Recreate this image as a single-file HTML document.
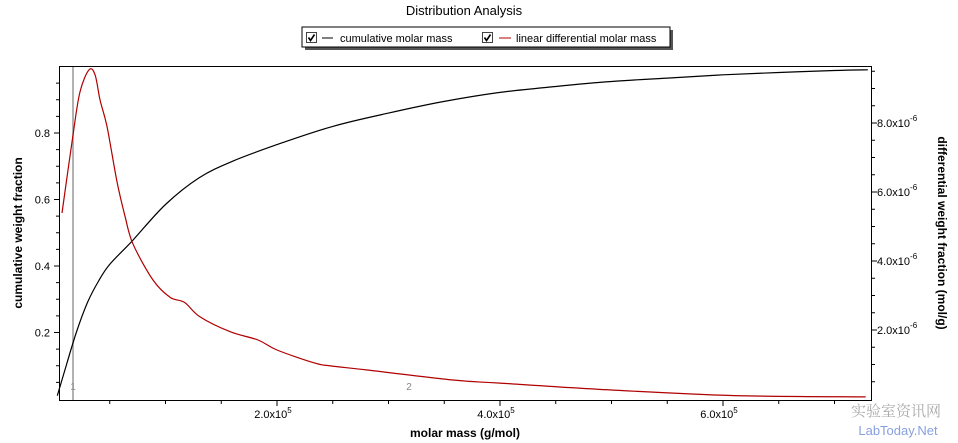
<!DOCTYPE html>
<html><head><meta charset="utf-8"><style>
html,body{margin:0;padding:0;background:#fff;}
svg{display:block;font-family:"Liberation Sans",Arial,sans-serif;}
</style></head><body>
<svg id="chart" width="958" height="443" viewBox="0 0 958 443">
<text x="464" y="15" font-size="13" text-anchor="middle" fill="#000">Distribution Analysis</text>
<g>
<rect x="305" y="30" width="368" height="20" fill="#555"/>
<rect x="302" y="27" width="368" height="20" fill="#fff" stroke="#000" stroke-width="1"/>
<g>
<rect x="306.5" y="32.5" width="10" height="10" fill="#fff" stroke="#444"/>
<path d="M308.5 37.5 l2 3 l4 -6" stroke="#000" stroke-width="1.6" fill="none"/>
<line x1="322" y1="38" x2="333" y2="38" stroke="#000"/>
<text x="340" y="42" font-size="11">cumulative molar mass</text>
</g>
<g>
<rect x="482.5" y="32.5" width="10" height="10" fill="#fff" stroke="#444"/>
<path d="M484.5 37.5 l2 3 l4 -6" stroke="#000" stroke-width="1.6" fill="none"/>
<line x1="499" y1="38" x2="511" y2="38" stroke="#b00000"/>
<text x="516" y="42" font-size="11">linear differential molar mass</text>
</g>
</g>
<g id="axes"></g>
<g id="marks"></g>
<rect x="59.5" y="66.5" width="812" height="334" fill="none" stroke="#000"/>
<text x="0" y="0" font-size="12" font-weight="bold" text-anchor="middle" transform="translate(22,233) rotate(-90)">cumulative weight fraction</text>
<text x="0" y="0" font-size="12" font-weight="bold" text-anchor="middle" transform="translate(938,233) rotate(90)">differential weight fraction (mol/g)</text>
<text x="465" y="437" font-size="12" font-weight="bold" text-anchor="middle">molar mass (g/mol)</text>
<text x="73" y="390" font-size="10" fill="#888" text-anchor="middle">1</text>
<text x="409" y="390" font-size="10" fill="#888" text-anchor="middle">2</text>
<text x="896" y="416" font-size="15" fill="#aaa" text-anchor="middle" font-family="'Noto Serif CJK SC','Noto Sans CJK SC',serif">实验室资讯网</text>
<text x="898" y="435" font-size="13" fill="#88a0e0" text-anchor="middle">LabToday.Net</text>
</svg>
<script>
const cumMass = [3e3,1e4,2e4,3e4,4e4,5e4,7e4,1e5,1.3e5,1.6e5,2e5,2.5e5,3e5,3.5e5,4e5,4.5e5,5e5,5.5e5,6e5,6.5e5,7e5,7.3e5];
const cumValues = [0.01,0.09,0.2,0.29,0.355,0.405,0.475,0.585,0.665,0.715,0.765,0.82,0.86,0.895,0.922,0.94,0.955,0.965,0.975,0.982,0.988,0.99];
const diffMass = [7.2e3,1.7e4,2.33e4,3.14e4,3.68e4,4.13e4,4.75e4,5.65e4,6.37e4,7.08e4,8.88e4,1.04e5,1.17e5,1.31e5,1.58e5,1.83e5,2e5,2.34e5,2.48e5,2.81e5,3.58e5,4e5,5e5,6.1e5,7.28e5];
const diffValues = [5.39,7.65,8.9,9.54,9.4,8.67,7.9,6.3,5.3,4.5,3.45,2.95,2.8,2.38,1.95,1.71,1.42,1.04,0.96,0.84,0.55,0.46,0.26,0.1,0.06];
const xTicks = [2e5,4e5,6e5];
const xTickLabels = ["2.0x10","4.0x10","6.0x10"];
const leftTicks = [0.2,0.4,0.6,0.8];
const leftTickLabels = ["0.2","0.4","0.6","0.8"];
const rightTicks = [2,4,6,8];
const rightTickLabels = ["2.0x10","4.0x10","6.0x10","8.0x10"];

const NS="http://www.w3.org/2000/svg";
const X=m=>54+m/2e5*223;
const YL=v=>399-v/0.2*66.5;
const YR=v=>399-v/2*69;
const axes=document.getElementById('axes'), marks=document.getElementById('marks');
function mk(tag,attrs,parent){const e=document.createElementNS(NS,tag);for(const k in attrs)e.setAttribute(k,attrs[k]);parent.appendChild(e);return e;}
for(let m=5e4;m<=7.3e5;m+=5e4){const major=xTicks.includes(m);
const t=mk('line',{x1:X(m),x2:X(m),y1:401,y2:major?406:404,stroke:'#000'},axes);

}
xTicks.forEach((m,i)=>{const t=mk('text',{x:X(m)-4,y:418,'font-size':11,'text-anchor':'middle'},axes);


t.textContent=xTickLabels[i];
const s=mk('tspan',{dy:-5,'font-size':8},t);s.textContent='5';});
for(let v=0.05;v<1.0;v+=0.05){const major=leftTicks.some(t=>Math.abs(t-v)<1e-6);
const t=mk('line',{x1:major?54:56,x2:59,y1:YL(v),y2:YL(v),stroke:'#000'},axes);

}
leftTicks.forEach((v,i)=>{const t=mk('text',{x:50,y:YL(v)+4,'font-size':11,'text-anchor':'end'},axes);


t.textContent=leftTickLabels[i];});
for(let v=0.5;v<9.7;v+=0.5){const major=rightTicks.some(t=>Math.abs(t-v)<1e-6);
const t=mk('line',{x1:872,x2:major?877:875,y1:YR(v),y2:YR(v),stroke:'#000'},axes);

}
rightTicks.forEach((v,i)=>{const t=mk('text',{x:877,y:YR(v)+4,'font-size':11},axes);


t.textContent=rightTickLabels[i];
const s=mk('tspan',{dy:-6,'font-size':8},t);s.textContent='-6';});
const vl=mk('line',{x1:73,x2:73,y1:67,y2:400,stroke:'#999','stroke-width':1.5},marks);


function path(xs,ys,yf,color,name){
const P=xs.map((m,i)=>[X(m),yf(ys[i])]);
let d='M'+P[0][0].toFixed(1)+' '+P[0][1].toFixed(1);
for(let i=0;i<P.length-1;i++){const p0=P[Math.max(0,i-1)],p1=P[i],p2=P[i+1],p3=P[Math.min(P.length-1,i+2)];
const c1=[p1[0]+(p2[0]-p0[0])/6,p1[1]+(p2[1]-p0[1])/6],c2=[p2[0]-(p3[0]-p1[0])/6,p2[1]-(p3[1]-p1[1])/6];
d+='C'+c1.map(v=>v.toFixed(1)).join(' ')+' '+c2.map(v=>v.toFixed(1)).join(' ')+' '+p2.map(v=>v.toFixed(1)).join(' ');}
const p=mk('path',{d:d,fill:'none',stroke:color,'stroke-width':1.2,'stroke-linejoin':'round'},marks);

}
path(cumMass,cumValues,YL,'#000','cumulative-line');
path(diffMass,diffValues,YR,'#b00000','differential-line');
</script>
</body></html>
